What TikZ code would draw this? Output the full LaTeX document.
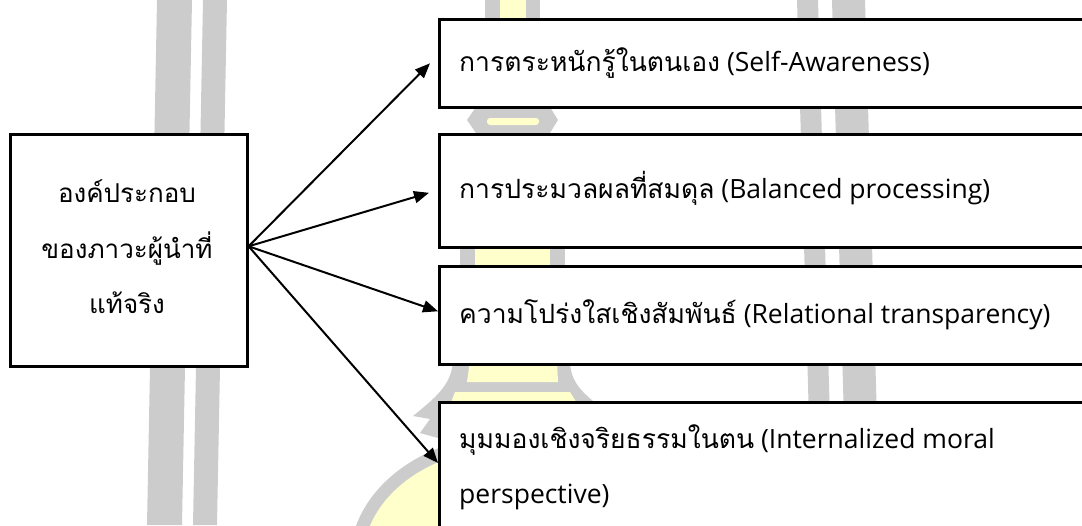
\documentclass[tikz,border=0pt]{standalone}
\usepackage{fontspec}
\setmainfont{Open Sans}
\newfontfamily\thaifont[Script=Thai]{Loma}
\usetikzlibrary{arrows.meta,calc}
\definecolor{markgrey}{HTML}{CCCCCC}
\definecolor{markyellow}{HTML}{FFFFCC}

\tikzset{
  box/.style={draw=black, fill=white, line width=2.6pt, inner sep=0pt, anchor=north west},
  label/.style={inner sep=0pt, anchor=base west, font=\fontsize{26.5}{30}\selectfont},
  mainlabel/.style={inner sep=0pt, anchor=base, font=\fontsize{26}{30}\selectfont\thaifont},
  link/.style={line width=2pt, -{Triangle[length=15pt,width=12pt]}}
}

\begin{document}
\begin{tikzpicture}[x=1pt,y=-1pt]
\useasboundingbox (0,0) rectangle (1082,525);
\clip (0,0) rectangle (1082,525);

% background emblem: grey pillars
\fill[markgrey] (157,0) -- (192,0) -- (182,525) -- (147,525) -- cycle;
\fill[markgrey] (203,0) -- (227,0) -- (217,525) -- (193,525) -- cycle;
\fill[markgrey] (797,0) -- (818,0) -- (833,525) -- (812,525) -- cycle;
\fill[markgrey] (832,0) -- (865,0) -- (880,525) -- (847,525) -- cycle;

% background emblem: central ornament
\fill[markgrey] (485,0) rectangle (540,110);
\fill[markyellow] (500,0) rectangle (526,110);
\fill[markgrey] (467,120) -- (478,104) -- (548,104) -- (558,120) -- (548,136) -- (478,136) -- cycle;
\fill[markyellow, rounded corners=3pt] (487,118) rectangle (539,125);
\fill[markgrey] (460,136) rectangle (565,365);
\fill[markyellow] (475,136) rectangle (550,365);
\fill[markgrey] (510,560) ellipse [x radius=160, y radius=125];
\fill[markyellow] (510,560) ellipse [x radius=147, y radius=112];
\fill[markgrey] (453,360) .. controls (452,385) and (435,398) .. (413,416)
  -- (430,419) -- (420,433) -- (445,440) -- (600,440) -- (593,401)
  .. controls (580,390) and (570,380) .. (570,360) -- cycle;
\fill[markyellow] (470,360) -- (557,360) -- (558,382) -- (467,382) -- cycle;
\fill[markyellow] (455,392) -- (570,392) -- (578,405) -- (450,405) -- cycle;

% boxes
\node[box, minimum width=237, minimum height=232] (src) at (9,133) {};
\node[box, minimum width=700, minimum height=88]  (b1) at (438,18) {};
\node[box, minimum width=700, minimum height=113] (b2) at (438,133) {};
\node[box, minimum width=700, minimum height=98]  (b3) at (438,265) {};
\node[box, minimum width=700, minimum height=160] (b4) at (438,401) {};

% source label
\node[mainlabel] (m1) at (127,202) {องค์ประกอบ};
\node[mainlabel] (m2) at (127,258) {ของภาวะผู้นำที่};
\node[mainlabel] (m3) at (127,313) {แท้จริง};

% component labels
\node[label] (l1) at (459,71)  {{\thaifont การตระหนักรู้ในตนเอง} (Self-Awareness)};
\node[label] (l2) at (459,198) {{\thaifont การประมวลผลที่สมดุล} (Balanced processing)};
\node[label] (l3) at (459,323) {{\thaifont ความโปร่งใสเชิงสัมพันธ์} (Relational transparency)};
\node[label] (l4a) at (459,448) {{\thaifont มุมมองเชิงจริยธรรมในตน} (Internalized moral};
\node[label] (l4b) at (459,503) {perspective)};

% connectors
\coordinate (hub) at ($(src.east)+(0,-4)$);
\coordinate (t1) at ($(b1.west)+(-8,0)$);
\coordinate (t2) at ($(b2.west)+(-9,2)$);
\coordinate (t3) at ($(b3.west)+(0,-4)$);
\coordinate (t4) at ($(b4.north west)+(0,62)$);
\draw[link] (hub) -- (t1);
\draw[link] (hub) -- (t2);
\draw[link] (hub) -- (t3);
\draw[link] (hub) -- (t4);
\end{tikzpicture}
\end{document}
